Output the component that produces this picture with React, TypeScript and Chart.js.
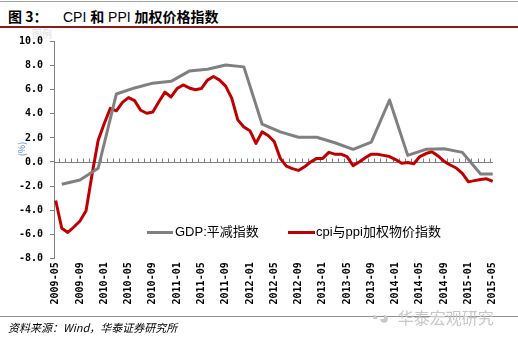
import React, { useEffect, useRef } from "react";
import { Chart, registerables } from "chart.js";

Chart.register(...registerables);

// ---- Data ----
const startYear = 2009;
const startMonth = 5;
const monthCount = 73; // 2009-05 .. 2015-05
const months: string[] = Array.from({ length: monthCount }, (_, i) => {
  const m = startMonth - 1 + i;
  const y = startYear + Math.floor(m / 12);
  const mm = (m % 12) + 1;
  return `${y}-${mm < 10 ? "0" + mm : mm}`;
});

const tickLabels = [
  "2009-05", "2009-09", "2010-01", "2010-05", "2010-09", "2011-01", "2011-05",
  "2011-09", "2012-01", "2012-05", "2012-09", "2013-01", "2013-05", "2013-09",
  "2014-01", "2014-05", "2014-09", "2015-01", "2015-05",
];

const yTicks = [10, 8, 6, 4, 2, 0, -2, -4, -6, -8];

// cpi与ppi加权物价指数 (monthly, 2009-05 .. 2015-05)
const cpiPpiValues = [
  -3.2, -5.5, -5.85, -5.4, -4.9, -4.05, -1.0, 1.8, 3.2, 4.45,
  4.25, 4.95, 5.35, 5.1, 4.3, 4.05, 4.15, 5.0, 5.8, 5.4,
  6.1, 6.4, 6.15, 6.0, 6.1, 6.8, 7.1, 6.8, 6.3, 5.3,
  3.5, 2.9, 2.6, 1.55, 2.5, 2.2, 1.7, 0.3, -0.35, -0.55,
  -0.7, -0.4, 0.0, 0.3, 0.3, 0.8, 0.65, 0.65, 0.45, -0.3,
  0.0, 0.35, 0.65, 0.65, 0.55, 0.45, 0.2, -0.1, -0.05, -0.15,
  0.45, 0.7, 0.85, 0.5, 0.05, -0.25, -0.5, -0.95, -1.65, -1.55,
  -1.45, -1.4, -1.6,
];

// GDP:平减指数 (quarterly)
const gdpDates = [
  "2009-06", "2009-09", "2009-12", "2010-03", "2010-06", "2010-09", "2010-12",
  "2011-03", "2011-06", "2011-09", "2011-12", "2012-03", "2012-06", "2012-09",
  "2012-12", "2013-03", "2013-06", "2013-09", "2013-12", "2014-03", "2014-06",
  "2014-09", "2014-12", "2015-03", "2015-05",
];
const gdpValues = [
  -1.85, -1.5, -0.52, 5.65, 6.15, 6.55, 6.7,
  7.55, 7.7, 8.05, 7.9, 3.15, 2.5, 2.05,
  2.05, 1.6, 1.05, 1.65, 5.15, 0.55, 1.05,
  1.1, 0.8, -1.0, -1.0,
];

const GRAY = "#808080";
const RED = "#C00000";

const zeroLinePlugin = {
  id: "zeroLine",
  beforeDatasetsDraw(chart: any) {
    const { ctx, chartArea, scales } = chart;
    const y = Math.round(scales.y.getPixelForValue(0)) + 0.5;
    ctx.save();
    ctx.strokeStyle = GRAY;
    ctx.lineWidth = 1;
    ctx.beginPath();
    ctx.moveTo(chartArea.left, y);
    ctx.lineTo(chartArea.right, y);
    for (let i = 0; i < monthCount - 1; i++) {
      const x = Math.round(scales.x.getPixelForValue(i + 0.5)) + 0.5;
      ctx.moveTo(x, y);
      ctx.lineTo(x, y - 4);
    }
    ctx.stroke();
    ctx.restore();
  },
};

function ChartBox() {
  const ref = useRef<HTMLCanvasElement | null>(null);
  useEffect(() => {
    if (!ref.current) return;
    const tickFont = { family: '"DejaVu Sans Mono", monospace', size: 10, weight: "bold" as const };
    const chart = new Chart(ref.current, {
      type: "line",
      data: {
        datasets: [
          {
            label: "GDP:平减指数",
            data: gdpDates.map((d, i) => ({ x: months.indexOf(d), y: gdpValues[i] })),
            borderColor: GRAY,
            backgroundColor: GRAY,
            borderWidth: 3,
            pointRadius: 0,
            tension: 0,
            borderJoinStyle: "round",
          },
          {
            label: "cpi与ppi加权物价指数",
            data: cpiPpiValues.map((v, i) => ({ x: i, y: v })),
            borderColor: RED,
            backgroundColor: RED,
            borderWidth: 3,
            pointRadius: 0,
            tension: 0,
            borderJoinStyle: "round",
          },
        ],
      },
      options: {
        animation: false,
        responsive: false,
        events: [],
        layout: { padding: { left: 0, top: 41.6, right: 25, bottom: 32.7 } },
        plugins: { legend: { display: false }, tooltip: { enabled: false } },
        scales: {
          x: {
            type: "linear",
            min: -0.28,
            max: 72.05,
            grid: { display: false, drawTicks: false },
            border: { display: false },
            afterFit: (s: any) => { s.height = 50; },
            afterBuildTicks: (s: any) => {
              s.ticks = tickLabels.map((l) => ({ value: months.indexOf(l) }));
            },
            ticks: {
              autoSkip: false,
              minRotation: 90,
              maxRotation: 90,
              padding: 4,
              color: "#000",
              font: tickFont,
              callback: (v: any) => months[Math.round(Number(v))] ?? "",
            },
          },
          y: {
            min: -8,
            max: 10,
            grid: { display: true, drawOnChartArea: false, drawTicks: true, tickLength: 4, color: GRAY },
            border: { display: true, color: GRAY, width: 1 },
            afterFit: (s: any) => { s.width = 54; },
            afterBuildTicks: (s: any) => {
              s.ticks = yTicks.map((v) => ({ value: v }));
            },
            ticks: {
              padding: 7,
              color: "#000",
              font: tickFont,
              callback: (v: any) => Number(v).toFixed(1),
            },
          },
        },
      },
      plugins: [zeroLinePlugin],
    });
    return () => chart.destroy();
  }, []);
  return (
    <canvas
      ref={ref}
      width={518}
      height={341}
      style={{ position: "absolute", left: 0, top: 0, width: 518, height: 341 }}
    />
  );
}

export default function App() {
  const sans = '"Liberation Sans", "Noto Sans CJK SC", sans-serif';
  return (
    <div
      style={{
        position: "fixed",
        left: 0,
        top: 0,
        width: 518,
        height: 341,
        background: "#fff",
        overflow: "hidden",
        fontFamily: sans,
      }}
    >
      {/* top gray rule */}
      <div style={{ position: "absolute", left: 0, top: 1, width: 518, height: 1, background: "#a0a0a0" }} />
      {/* title */}
      <div style={{ position: "absolute", left: 8, top: 7, fontSize: 14, lineHeight: "18px", fontWeight: 700, color: "#000", fontFamily: '"Noto Sans CJK SC", sans-serif' }}>
        图 3：
      </div>
      <div style={{ position: "absolute", left: 63, top: 7, fontSize: 14, lineHeight: "18px", color: "#000", whiteSpace: "nowrap" }}>
        <span>CPI </span>
        <span style={{ fontWeight: 700, fontFamily: '"Noto Sans CJK SC", sans-serif' }}>和</span>
        <span> PPI </span>
        <span style={{ fontWeight: 700, fontFamily: '"Noto Sans CJK SC", sans-serif' }}>加权价格指数</span>
      </div>
      {/* dark red rule under title */}
      <div style={{ position: "absolute", left: 0, top: 26, width: 518, height: 1.5, background: "#8B1A1A" }} />

      {/* faint leftover legend box */}
      <div style={{ position: "absolute", left: 32, top: 28, fontSize: 10, lineHeight: "12px", color: "#e0e0e0", fontFamily: '"Noto Sans CJK SC", sans-serif' }}>
        图例
      </div>

      <ChartBox />

      {/* y-axis unit */}
      <div
        style={{
          position: "absolute",
          left: 12,
          top: 144,
          width: 20,
          height: 10,
          fontSize: 9,
          lineHeight: "10px",
          color: "#4F81BD",
          textAlign: "center",
          transform: "rotate(-90deg)",
          fontFamily: '"Noto Sans CJK SC", sans-serif',
        }}
      >
        (%)
      </div>

      {/* legend */}
      <div style={{ position: "absolute", left: 147, top: 231, width: 26, height: 3, background: GRAY }} />
      <div style={{ position: "absolute", left: 175, top: 224, fontSize: 13, lineHeight: "16px", color: "#000", whiteSpace: "nowrap" }}>
        GDP:平减指数
      </div>
      <div style={{ position: "absolute", left: 288, top: 231, width: 27, height: 3, background: RED }} />
      <div style={{ position: "absolute", left: 316, top: 224, fontSize: 13, lineHeight: "16px", color: "#000", whiteSpace: "nowrap" }}>
        cpi与ppi加权物价指数
      </div>

      {/* footer rule */}
      <div style={{ position: "absolute", left: 0, top: 316, width: 518, height: 1, background: "#909090" }} />
      {/* watermark */}
      <div style={{ position: "absolute", left: 368, top: 306, fontSize: 16, lineHeight: "20px", color: "#c8c8c8", whiteSpace: "nowrap", fontFamily: '"Noto Sans CJK SC", sans-serif' }}>
        <span style={{ fontSize: 18, marginRight: 8 }}>◔◕</span>华泰宏观研究
      </div>
      {/* source */}
      <div style={{ position: "absolute", left: 8, top: 320, fontSize: 11, lineHeight: "14px", fontStyle: "italic", color: "#000", whiteSpace: "nowrap", fontFamily: '"Noto Sans CJK SC", sans-serif' }}>
        资料来源：Wind，华泰证券研究所
      </div>
    </div>
  );
}
